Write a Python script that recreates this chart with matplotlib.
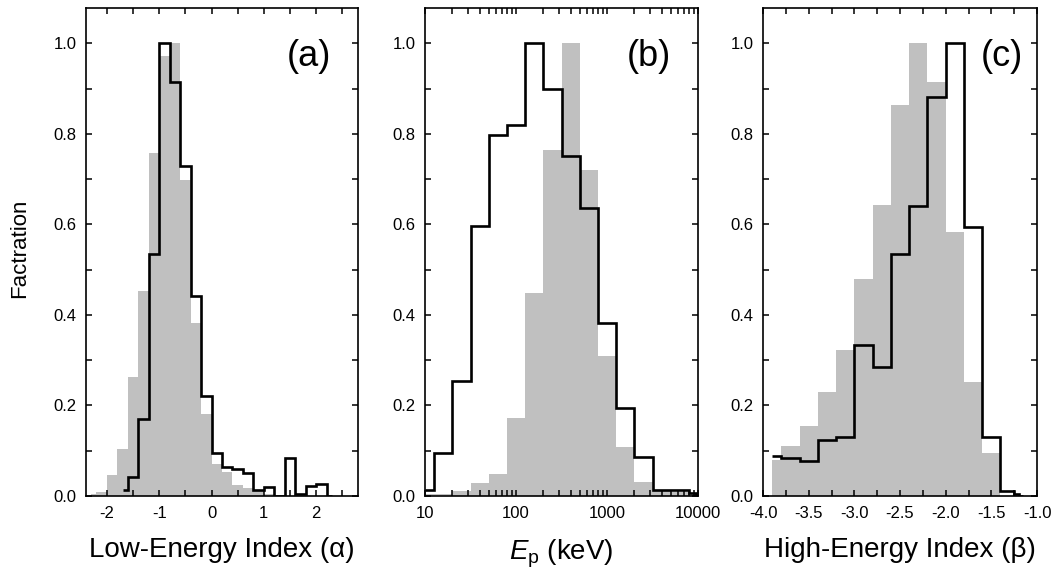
import matplotlib.pyplot as plt
from matplotlib.ticker import MultipleLocator, LogLocator, NullFormatter, FormatStrFormatter

plt.rcParams['font.family'] = ['Liberation Sans', 'DejaVu Sans']
plt.rcParams['mathtext.fontset'] = 'custom'
plt.rcParams['mathtext.rm'] = 'Liberation Sans'
plt.rcParams['mathtext.it'] = 'Liberation Sans:italic'
plt.rcParams['axes.unicode_minus'] = False

grey = '#c0c0c0'

# (a) low-energy index alpha
alpha_grey_edges = [-2.3, -2.2, -2.0, -1.8, -1.6, -1.4, -1.2, -1.0, -0.8, -0.6,
                    -0.4, -0.2, 0.0, 0.2, 0.4, 0.6, 0.8, 1.0, 1.2]
alpha_grey = [0.004, 0.008, 0.046, 0.103, 0.262, 0.452, 0.757, 0.973, 1.0,
              0.697, 0.382, 0.182, 0.070, 0.052, 0.024, 0.017, 0.012, 0.004]
alpha_black_edges = [-1.7, -1.6, -1.4, -1.2, -1.0, -0.8, -0.6, -0.4, -0.2, 0.0,
                     0.2, 0.4, 0.6, 0.8, 1.0, 1.2, 1.4, 1.6, 1.8, 2.0, 2.2, 2.3]
alpha_black = [0.013, 0.042, 0.170, 0.535, 1.0, 0.914, 0.730, 0.441, 0.220,
               0.094, 0.065, 0.059, 0.050, 0.013, 0.019, 0.0, 0.083, 0.005,
               0.023, 0.027, 0.0]

# (b) peak energy, bin edges in log10(keV)
ep_log_edges = [1.0, 1.1, 1.3, 1.5, 1.7, 1.9, 2.1, 2.3, 2.5, 2.7, 2.9, 3.1,
                3.3, 3.5, 3.7, 3.9, 3.98, 4.0]
ep_grey = [0.004, 0.004, 0.010, 0.028, 0.048, 0.172, 0.449, 0.765, 1.0,
           0.721, 0.310, 0.109, 0.030, 0.011, 0.008, 0.005, 0.005]
ep_black = [0.013, 0.094, 0.255, 0.596, 0.798, 0.819, 1.0, 0.898, 0.751,
            0.636, 0.382, 0.194, 0.087, 0.013, 0.013, 0.006, 0.0]
ep_edges = [10 ** v for v in ep_log_edges]

# (c) high-energy index beta
beta_grey_edges = [-3.9, -3.8, -3.6, -3.4, -3.2, -3.0, -2.8, -2.6, -2.4,
                   -2.2, -2.0, -1.8, -1.6, -1.4]
beta_grey = [0.080, 0.111, 0.155, 0.229, 0.323, 0.479, 0.642, 0.864, 1.0,
             0.915, 0.584, 0.251, 0.094]
beta_black_edges = [-3.9, -3.8, -3.6, -3.4, -3.2, -3.0, -2.8, -2.6, -2.4,
                    -2.2, -2.0, -1.8, -1.6, -1.4, -1.25, -1.2, -1.15]
beta_black = [0.088, 0.083, 0.077, 0.124, 0.130, 0.334, 0.285, 0.535, 0.640,
              0.881, 1.0, 0.594, 0.130, 0.011, 0.005, 0.0]

fig = plt.figure(figsize=(10.57, 5.79), dpi=100)
W, H = 1057, 579
bottom_px, top_px = 496, 8
boxes = [(86, 358), (425, 698), (763, 1037)]
axes = [fig.add_axes([l / W, 1 - bottom_px / H, (r - l) / W, (bottom_px - top_px) / H])
        for l, r in boxes]

panels = [
    (alpha_grey_edges, alpha_grey, alpha_black_edges, alpha_black),
    (ep_edges, ep_grey, ep_edges, ep_black),
    (beta_grey_edges, beta_grey, beta_black_edges, beta_black),
]
for ax, (ge, gv, be, bv) in zip(axes, panels):
    ax.stairs(gv, ge, fill=True, color=grey, linewidth=0, zorder=1)
    # open step outline: no vertical drop at the first edge
    ax.stairs(bv, be, fill=False, color='black', linewidth=1.9, baseline=None, zorder=2)
    ax.set_ylim(0, 1.078)
    ax.set_yticks([0, 0.2, 0.4, 0.6, 0.8, 1.0])
    ax.yaxis.set_major_formatter(FormatStrFormatter('%.1f'))
    ax.yaxis.set_minor_locator(MultipleLocator(0.1))
    ax.tick_params(which='both', direction='in', top=True, right=True,
                   length=4.5, width=1.1, labelsize=12, pad=7)
    for s in ax.spines.values():
        s.set_linewidth(1.2)

ax = axes[0]
ax.set_xlim(-2.4, 2.8)
ax.set_xticks([-2, -1, 0, 1, 2])
ax.xaxis.set_minor_locator(MultipleLocator(0.5))
ax.set_xlabel('Low-Energy Index (α)', fontsize=20, labelpad=12)
ax.text(0.82, 0.9, '(a)', transform=ax.transAxes, fontsize=26, ha='center', va='center')

ax = axes[1]
ax.set_xscale('log')
ax.set_xlim(10, 10000)
ax.set_xticks([10, 100, 1000, 10000], labels=['10', '100', '1000', '10000'])
ax.xaxis.set_minor_locator(LogLocator(base=10, subs=range(2, 10)))
ax.xaxis.set_minor_formatter(NullFormatter())
ax.set_xlabel(r'$E_\mathregular{p}$ (keV)', fontsize=20, labelpad=12)
ax.text(0.82, 0.9, '(b)', transform=ax.transAxes, fontsize=26, ha='center', va='center')

ax = axes[2]
ax.set_xlim(-4.0, -1.0)
ax.set_xticks([-4.0, -3.5, -3.0, -2.5, -2.0, -1.5, -1.0])
ax.xaxis.set_major_formatter(FormatStrFormatter('%.1f'))
ax.xaxis.set_minor_locator(MultipleLocator(0.25))
ax.set_xlabel('High-Energy Index (β)', fontsize=20, labelpad=12)
ax.text(0.87, 0.9, '(c)', transform=ax.transAxes, fontsize=26, ha='center', va='center')

fig.text(20 / W, 1 - 248 / H, 'Factration', rotation=90, fontsize=16,
         ha='center', va='center')

fig.savefig('out.png', dpi=100)
